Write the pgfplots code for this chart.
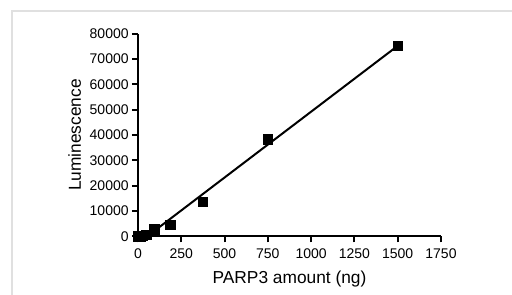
\documentclass[border=0pt]{standalone}
\usepackage{fontspec}
\setmainfont{Liberation Sans}
\usepackage{pgfplots}
\pgfplotsset{compat=1.18}
\begin{document}
\begin{tikzpicture}
\path[use as bounding box] (0,0) rectangle (384pt,221.25pt);
\draw[line width=1.5pt, color={rgb,255:red,224;green,224;blue,224}] (9pt,-5pt) -- (9pt,213pt) -- (390pt,213pt);
\begin{axis}[
  at={(103.5pt,44pt)}, anchor=south west,
  scale only axis, width=227.25pt, height=152pt,
  xmin=0, xmax=1750, ymin=0, ymax=80000,
  axis lines=left, axis line style={-, line width=1.5pt},
  tick align=outside, major tick length=4.5pt,
  tick style={line width=1.5pt, black},
  xtick={0,250,...,1750}, ytick={0,10000,...,80000},
  scaled ticks=false,
  /pgf/number format/assume math mode=true,
  /pgf/number format/set thousands separator={},
  ticklabel style={font=\fontsize{10.5}{12}\selectfont},
  xticklabel style={yshift=-1.5pt},
  yticklabel style={xshift=1pt},
  xlabel={PARP3 amount (ng)},
  ylabel={Luminescence},
  label style={font=\fontsize{13}{15}\selectfont},
  xlabel style={at={(axis description cs:0.5,0)}, anchor=base, yshift=-35.2pt},
  ylabel style={at={(axis description cs:0,0.5)}, anchor=base, yshift=42.75pt},
  clip=false,
]
\addplot[only marks, mark=square*, mark size=3.6pt, black] coordinates {
 (0,0) (11.7,100) (23.4,300) (46.9,600) (93.75,2900) (187.5,4500) (375,13600) (750,38200) (1500,75200)
};
\addplot[black, line width=1.5pt] coordinates {(88,1800) (1500,75200)};
\end{axis}
\end{tikzpicture}
\end{document}
